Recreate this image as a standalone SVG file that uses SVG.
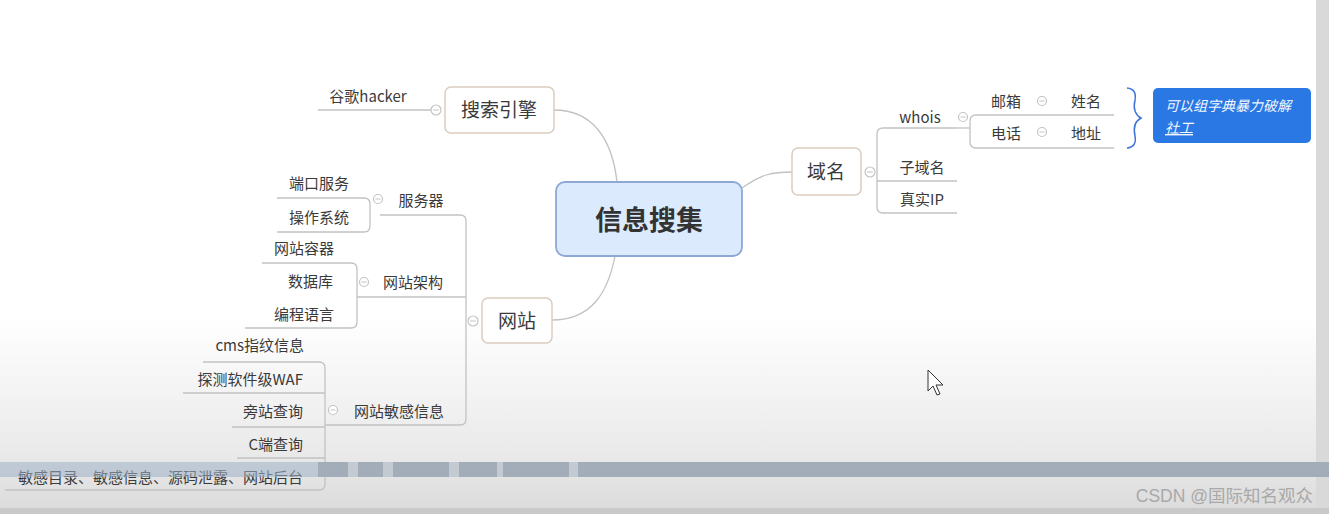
<svg xmlns="http://www.w3.org/2000/svg" width="1329" height="514" viewBox="0 0 1329 514">
<defs>
<linearGradient id="bg" x1="0" y1="0" x2="0" y2="1">
<stop offset="0" stop-color="#ffffff"/>
<stop offset="0.62" stop-color="#ffffff"/>
<stop offset="0.9" stop-color="#e8e8e8"/>
<stop offset="1" stop-color="#dadada"/>
</linearGradient>
<style>
.t{font-family:"Noto Sans CJK SC","Liberation Sans",sans-serif;font-size:15px;fill:#3a3a3a}
.big{font-size:19px}
.c{stroke:#c2c2c2;stroke-width:1.3;fill:none}
.box{fill:#ffffff;stroke:#dacdbf;stroke-width:1.5}
.col{fill:#fff;stroke:#c4c4c4;stroke-width:1.2}
.mn{stroke:#c4c4c4;stroke-width:1}
</style>
</defs>
<rect x="0" y="0" width="1329" height="514" fill="url(#bg)"/>
<rect x="1316" y="0" width="13" height="514" fill="#d9d9d9"/>
<rect x="0" y="508" width="1329" height="6" fill="#c9c9c9"/>

<g id="connectors">
<path class="c" d="M554,110 C592,110 612,138 617,182"/>
<path class="c" d="M552,320 C592,320 608,292 615,256"/>
<path class="c" d="M742,188 C762,174 772,172 792,172"/>
<path class="c" d="M318,110 H431"/>
<path class="c" d="M957,128 H883 Q877,128 877,134 V207 Q877,213 883,213 H957"/>
<path class="c" d="M877,181 H957"/>
<path class="c" d="M1114,115 H976 Q970,115 970,121 V142 Q970,148 976,148 H1114"/>
<path class="c" d="M957,128 H970"/>
<path class="c" d="M380,215 H460 Q466,215 466,221 V419 Q466,425 460,425 H325"/>
<path class="c" d="M357,297 H466"/>
<path class="c" d="M277,198 H364 Q370,198 370,204 V226 Q370,232 364,232 H277"/>
<path class="c" d="M262,263 H351 Q357,263 357,269 V322 Q357,328 351,328 H245"/>
<path class="c" d="M203,362 H319 Q325,362 325,368 V484 Q325,490 319,490 H5"/>
<path class="c" d="M183,393 H325"/>
<path class="c" d="M232,427 H325"/>
<path class="c" d="M237,458 H325"/>
</g>

<g id="root">
<rect x="556" y="182" width="186" height="74" rx="9" fill="#dbeafc" stroke="#8ea8d6" stroke-width="1.8"/>
<text x="649" y="230" text-anchor="middle" class="t" style="font-size:27px;font-weight:bold;fill:#333">信息搜集</text>
</g>

<g id="n-search">
<rect class="box" x="445" y="87" width="109" height="46" rx="6"/>
<text x="499" y="117" text-anchor="middle" class="t big">搜索引擎</text>
<circle class="col" cx="436" cy="110" r="5"/><line class="mn" x1="433" y1="110" x2="439" y2="110"/>
</g>
<g id="n-google"><text x="368" y="102" text-anchor="middle" class="t">谷歌hacker</text></g>

<g id="n-domain">
<rect class="box" x="792" y="148" width="69" height="47" rx="6"/>
<text x="826" y="179" text-anchor="middle" class="t big">域名</text>
<circle class="col" cx="870" cy="172" r="5"/><line class="mn" x1="867" y1="172" x2="873" y2="172"/>
</g>
<g id="n-whois">
<text x="920" y="123" text-anchor="middle" class="t">whois</text>
<circle class="col" cx="963" cy="117" r="4.5"/><line class="mn" x1="960.5" y1="117" x2="965.5" y2="117"/>
</g>
<g id="n-email">
<text x="1006" y="107" text-anchor="middle" class="t">邮箱</text>
<circle class="col" cx="1042" cy="101" r="4.5"/><line class="mn" x1="1039.5" y1="101" x2="1044.5" y2="101"/>
</g>
<g id="n-name"><text x="1086" y="107" text-anchor="middle" class="t">姓名</text></g>
<g id="n-phone">
<text x="1006" y="139" text-anchor="middle" class="t">电话</text>
<circle class="col" cx="1042" cy="132" r="4.5"/><line class="mn" x1="1039.5" y1="132" x2="1044.5" y2="132"/>
</g>
<g id="n-addr"><text x="1086" y="139" text-anchor="middle" class="t">地址</text></g>
<g id="n-sub"><text x="922" y="173" text-anchor="middle" class="t">子域名</text></g>
<g id="n-ip"><text x="922" y="205" text-anchor="middle" class="t">真实IP</text></g>

<g id="brace">
<path d="M1127,88 Q1137,89 1135,100 Q1132,113 1141,118 Q1132,123 1135,136 Q1137,147 1127,148" fill="none" stroke="#3f74d6" stroke-width="1.5"/>
</g>
<g id="n-note">
<rect x="1153" y="88" width="158" height="55" rx="5" fill="#2a78e4"/>
<text x="1165" y="111" class="t" style="font-size:14px;font-style:italic;fill:#f2f6ff">可以组字典暴力破解</text>
<text x="1165" y="133" class="t" style="font-size:14px;font-style:italic;fill:#f2f6ff;text-decoration:underline">社工</text>
</g>

<g id="n-site">
<rect class="box" x="482" y="298" width="70" height="45" rx="6"/>
<text x="517" y="328" text-anchor="middle" class="t big">网站</text>
<circle class="col" cx="473" cy="321" r="5"/><line class="mn" x1="470" y1="321" x2="476" y2="321"/>
</g>

<g id="n-server">
<text x="421" y="206" text-anchor="middle" class="t">服务器</text>
<circle class="col" cx="378" cy="199" r="4.5"/><line class="mn" x1="375.5" y1="199" x2="380.5" y2="199"/>
</g>
<g id="n-port"><text x="349" y="189" text-anchor="end" class="t">端口服务</text></g>
<g id="n-os"><text x="349" y="223" text-anchor="end" class="t">操作系统</text></g>

<g id="n-arch">
<text x="413" y="288" text-anchor="middle" class="t">网站架构</text>
<circle class="col" cx="364" cy="282" r="4.5"/><line class="mn" x1="361.5" y1="282" x2="366.5" y2="282"/>
</g>
<g id="n-container"><text x="334" y="254" text-anchor="end" class="t">网站容器</text></g>
<g id="n-db"><text x="333" y="287" text-anchor="end" class="t">数据库</text></g>
<g id="n-lang"><text x="334" y="320" text-anchor="end" class="t">编程语言</text></g>

<g id="n-sens">
<text x="399" y="417" text-anchor="middle" class="t">网站敏感信息</text>
<circle class="col" cx="333" cy="410" r="4.5"/><line class="mn" x1="330.5" y1="410" x2="335.5" y2="410"/>
</g>
<g id="n-cms"><text x="304" y="351" text-anchor="end" class="t">cms指纹信息</text></g>
<g id="n-waf"><text x="303" y="385" text-anchor="end" class="t">探测软件级WAF</text></g>
<g id="n-side"><text x="303" y="417" text-anchor="end" class="t">旁站查询</text></g>
<g id="n-c"><text x="303" y="450" text-anchor="end" class="t">C端查询</text></g>
<g id="n-dir"><text x="303" y="483" text-anchor="end" class="t">敏感目录、敏感信息、源码泄露、网站后台</text></g>

<g id="overlay">
<rect x="0" y="462" width="318" height="15" fill="#9fb0c6" opacity="0.55"/>
<rect x="318" y="462" width="30" height="15" fill="#a3adb9"/>
<rect x="348" y="462" width="10" height="15" fill="#c3cad2"/>
<rect x="358" y="462" width="25" height="15" fill="#a3adb9"/>
<rect x="383" y="462" width="10" height="15" fill="#c3cad2"/>
<rect x="393" y="462" width="56" height="15" fill="#a3adb9"/>
<rect x="449" y="462" width="10" height="15" fill="#c3cad2"/>
<rect x="459" y="462" width="38" height="15" fill="#a3adb9"/>
<rect x="497" y="462" width="6" height="15" fill="#c3cad2"/>
<rect x="503" y="462" width="66" height="15" fill="#a3adb9"/>
<rect x="569" y="462" width="9" height="15" fill="#c3cad2"/>
<rect x="578" y="462" width="751" height="15" fill="#a3adb9"/>
<path d="M928,370 V391 L933,386 L937,395 L940,394 L936,385 L943,385 Z" fill="#ffffff" stroke="#333" stroke-width="1"/>
<text x="1313" y="502" text-anchor="end" style="font-family:'Liberation Sans','Noto Sans CJK SC',sans-serif;font-size:17.5px;fill:#a9a9a9">CSDN @国际知名观众</text>
</g>
</svg>
